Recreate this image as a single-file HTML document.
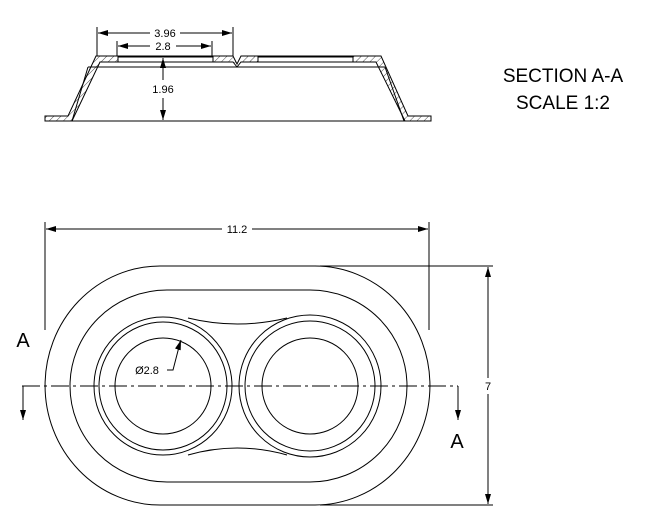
<!DOCTYPE html>
<html><head><style>body{margin:0;background:#fff}</style></head><body>
<svg width="661" height="527" xmlns="http://www.w3.org/2000/svg" font-family="Liberation Sans, sans-serif">
<defs>
<marker id="ar" markerWidth="10" markerHeight="6" refX="10" refY="3" orient="auto-start-reverse" markerUnits="userSpaceOnUse"><path d="M0,0 L10,3 L0,6z" fill="#000"/></marker>
<pattern id="h" width="5" height="5" patternUnits="userSpaceOnUse" patternTransform="rotate(45)"><line x1="0" y1="0" x2="0" y2="5" stroke="#000" stroke-width="0.7"/></pattern>
</defs>
<g stroke="#000" fill="none" stroke-width="1">
<!-- section view -->
<path d="M45,116 L68,116 L96,56 L233,56 L237,64 L241,56 L381,56 L408,116 L431,116 L431,121 L405,121 L376,62 L241,62 L237,67 L233,62 L100,62 L72,121 L45,121 Z" fill="url(#h)"/>
<line x1="88" y1="67" x2="385" y2="67"/>
<line x1="88" y1="67" x2="72" y2="121"/>
<line x1="385" y1="67" x2="404" y2="121"/>
<line x1="45" y1="121" x2="431" y2="121"/>
<rect x="118" y="57" width="95" height="5" fill="#fff"/>
<rect x="258" y="57" width="95" height="5" fill="#fff"/>
<line x1="97" y1="27" x2="97" y2="56"/><line x1="233" y1="27" x2="233" y2="56"/>
<line x1="117" y1="41" x2="117" y2="56"/><line x1="212" y1="41" x2="212" y2="56"/>
<line x1="98" y1="33" x2="150" y2="33" marker-start="url(#ar)"/><line x1="180" y1="33" x2="232" y2="33" marker-end="url(#ar)"/>
<line x1="118" y1="46" x2="150" y2="46" marker-start="url(#ar)"/><line x1="176" y1="46" x2="211" y2="46" marker-end="url(#ar)"/>
<line x1="163" y1="58" x2="163" y2="80" marker-start="url(#ar)"/><line x1="163" y1="98" x2="163" y2="120" marker-end="url(#ar)"/>
<!-- plan view -->
<path d="M160,266 L315,266 A115,119.5 0 0 1 315,505 L160,505 A115,119.5 0 0 1 160,266 Z"/>
<path d="M167,290 L310,290 A97,96 0 0 1 310,482 L167,482 A97,96 0 0 1 167,290 Z"/>
<circle cx="163" cy="386" r="69"/><circle cx="163" cy="386" r="64"/><circle cx="163" cy="386" r="48"/>
<circle cx="310" cy="386" r="71"/><circle cx="310" cy="386" r="65"/><circle cx="310" cy="386" r="48"/>
<path d="M188,318 Q237,330 287,318"/><path d="M188,455 Q237,441 287,455"/>
<line x1="22" y1="386" x2="458" y2="386" stroke-dasharray="18,4,3,4"/>
<line x1="23" y1="386" x2="23" y2="420" marker-end="url(#ar)"/>
<line x1="458" y1="386" x2="458" y2="420" marker-end="url(#ar)"/>
<line x1="45" y1="222" x2="45" y2="330"/><line x1="429" y1="222" x2="429" y2="330"/>
<line x1="46" y1="229" x2="222" y2="229" marker-start="url(#ar)"/><line x1="252" y1="229" x2="428" y2="229" marker-end="url(#ar)"/>
<line x1="320" y1="266" x2="493" y2="266"/><line x1="320" y1="505" x2="493" y2="505"/>
<line x1="488" y1="267" x2="488" y2="378" marker-start="url(#ar)"/><line x1="488" y1="394" x2="488" y2="504" marker-end="url(#ar)"/>
<polyline points="167,370 173,370 180,343" /><line x1="180" y1="343" x2="181" y2="340" marker-end="url(#ar)"/>
</g>
<g fill="#000" font-size="11" text-anchor="middle">
<text x="165" y="37">3.96</text><text x="163" y="50">2.8</text><text x="163" y="93">1.96</text>
<text x="237" y="233">11.2</text><text x="488" y="390">7</text><text x="147" y="374">Ø2.8</text>
</g>
<g fill="#000" font-size="20" text-anchor="middle">
<text x="23" y="347">A</text><text x="457" y="448">A</text>
<text x="563" y="82" font-size="19">SECTION A-A</text><text x="563" y="109" font-size="19">SCALE 1:2</text>
</g>
</svg>
</body></html>
